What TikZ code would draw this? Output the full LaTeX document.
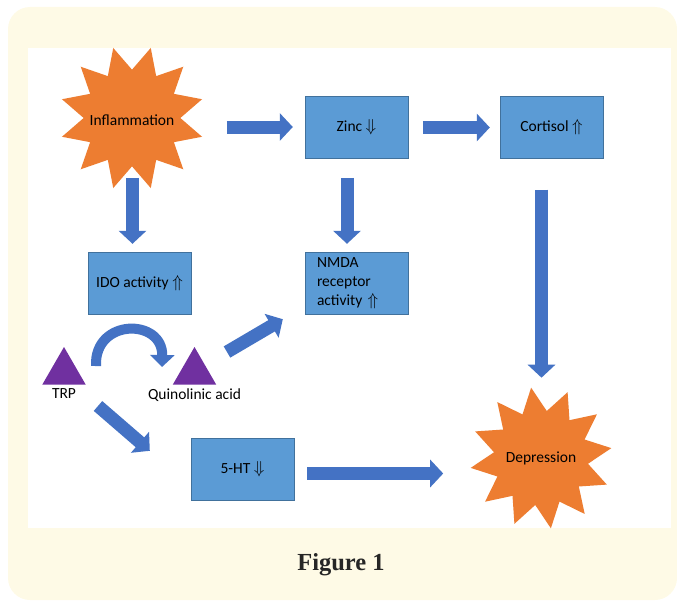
\documentclass[tikz,border=0pt]{standalone}
\usepackage{fontspec}
\setmainfont{Carlito}
\newfontfamily\figfont{Liberation Serif}
\usetikzlibrary{arrows.meta,shapes.geometric,positioning,calc}
\definecolor{cream}{HTML}{FEFAE6}
\definecolor{boxfill}{HTML}{5B9BD5}
\definecolor{boxline}{HTML}{41719C}
\definecolor{arrblue}{HTML}{4472C4}
\definecolor{burstorange}{HTML}{ED7D31}
\definecolor{tripurple}{HTML}{7030A0}
\newcommand{\up}{{\fontsize{19}{19}\selectfont$\Uparrow$}}
\newcommand{\down}{{\fontsize{19}{19}\selectfont$\Downarrow$}}

\begin{document}
\begin{tikzpicture}[x=1pt,y=-1pt]
  \tikzstyle{every node}=[font=\fontsize{15.5}{19}\selectfont]
  \tikzstyle{box}=[draw=boxline,fill=boxfill,minimum width=103pt,minimum height=62pt,inner sep=0pt]
  \tikzstyle{burst}=[star,star points=12,star point ratio=1.5,fill=burstorange,inner sep=0pt]
  \tikzstyle{tri}=[regular polygon,regular polygon sides=3,fill=tripurple,minimum size=50pt,inner sep=0pt]
  \tikzstyle{fat}=[arrblue,line width=13pt,-{Triangle[width=27pt,length=13pt]}]
  \useasboundingbox (0,0) rectangle (677,602);
  \fill[cream,rounded corners=22pt] (8,7) rectangle (677,600);
  \fill[white] (28,48) rectangle (671,528);
  % nodes
  \node[burst,minimum size=145pt,shape border rotate=15] (inflam) at (132,118) {};
  \node (inflamtxt) at ($(inflam)+(0,2)$) {Inflammation};
  \node[box] (zinc) at (356.5,127) {Zinc \down};
  \node[box] (cort) at (551.5,127.5) {Cortisol \up};
  \node[box] (ido) at (139.5,283) {IDO activity \up};
  \node[box,align=left,text width=80pt] (nmda) at (357,283) {NMDA\\receptor\\activity \up};
  \node[tri] (trp) at (64,372) {};
  \node[tri] (quin) at (194.5,372) {};
  \node[below=0pt of trp] (trplab) {TRP};
  \node[below=0pt of quin] (quinlab) {Quinolinic acid};
  \node[box] (ht) at (242.5,469.5) {5-HT \down};
  \node[burst,minimum size=142pt,shape border rotate=8] (depr) at (541,458) {};
  \node (deprtxt) at (depr) {Depression};
  % arrows
  \draw[fat] ($(zinc.west)+(-78,0)$) -- ($(zinc.west)+(-12,0)$);
  \draw[fat] ($(cort.west)+(-77,0)$) -- ($(cort.west)+(-10,0)$);
  \draw[fat] ($(ido.north)+(-7,-74)$) -- ($(ido.north)+(-7,-8)$);
  \draw[fat] ($(nmda.north)+(-10,-74)$) -- ($(nmda.north)+(-10,-8)$);
  \draw[fat] ($(cort.south)+(-10,31)$) -- ($(cort.south)+(-10,219)$);
  \draw[fat] ($(quin)+(32.5,-20)$) -- ($(nmda.south west)+(-22.5,5)$);
  \draw[fat] ($(trp)+(34,34)$) -- ($(ht.north west)+(-41,12.5)$);
  \draw[fat] ($(ht.east)+(13,4)$) -- ($(ht.east)+(149,4)$);
  \draw[fat,line width=10pt,-{Triangle[width=24pt,length=12pt]}]
    ($(trp)+(32,-6)$) .. controls +(-2,-48) and +(1,-49) .. ($(quin)+(-32.5,-5)$);
  % caption
  \node[font=\figfont\bfseries\fontsize{24.5}{28}\selectfont,text=black!85] (cap) at (341,565) {Figure 1};
\end{tikzpicture}
\end{document}
